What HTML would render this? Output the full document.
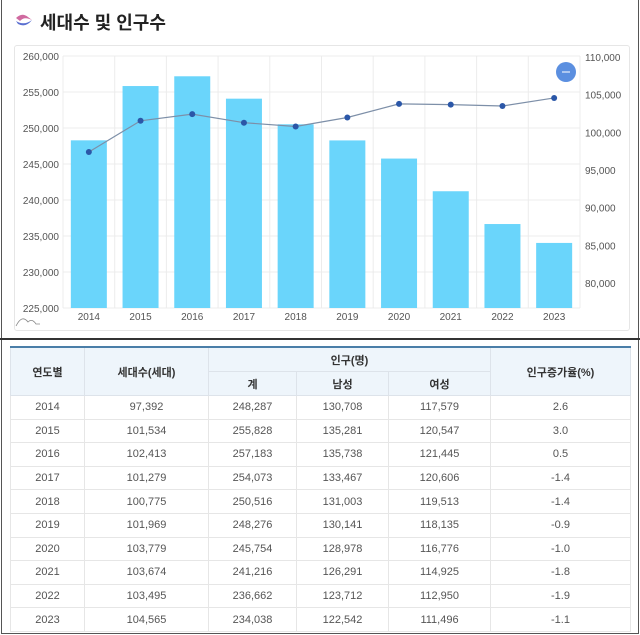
<!DOCTYPE html>
<html><head><meta charset="utf-8">
<style>
html,body{margin:0;padding:0;background:#fff;}
body{width:640px;height:635px;position:relative;overflow:hidden;font-family:"Liberation Sans","Noto Sans CJK KR",sans-serif;}
#frame{position:absolute;left:1px;top:0;width:636px;height:633px;border:1px solid #555;border-top:none;}
#divider{position:absolute;left:0;top:338px;width:640px;height:2px;background:#333;}
#title{position:absolute;left:40px;top:9px;font-size:18px;font-weight:bold;color:#222;}
#panel{position:absolute;left:14px;top:45px;width:614px;height:284px;border:1px solid #e6e6e6;border-radius:3px;}
table{position:absolute;left:10px;top:346px;width:621px;border-collapse:collapse;font-size:11px;color:#555;table-layout:fixed;}
th{background:#eef5fb;font-weight:bold;color:#333;border:1px solid #dde3ea;height:23px;padding:0;}
thead tr:first-child th{border-top:2px solid #4a7ea8;}
td{text-align:center;border:1px solid #e6e6e6;height:22.6px;padding:0;}
</style></head><body>
<div id="frame"></div>
<div style="position:absolute;left:14px;top:12px;width:20px;height:16px;">
<svg width="20" height="16"><path d="M2 6 Q8 0 14 5 L18 8 Q10 4 6 9Z" fill="#d06aa0"/><path d="M2 9 Q10 14 18 8 Q12 16 4 12Z" fill="#5a6fd0"/></svg></div>
<div id="title">세대수 및 인구수</div>
<div id="panel"></div>
<svg id="chart" width="640" height="335" style="position:absolute;left:0;top:0;"></svg>
<div id="divider"></div>
<table>
<colgroup><col style="width:74px"><col style="width:124px"><col style="width:88px"><col style="width:92px"><col style="width:102px"><col></colgroup>
<thead>
<tr><th rowspan="2">연도별</th><th rowspan="2">세대수(세대)</th><th colspan="3">인구(명)</th><th rowspan="2">인구증가율(%)</th></tr>
<tr><th>계</th><th>남성</th><th>여성</th></tr>
</thead>
<tbody id="tb"></tbody>
</table>
<script>
const years=['2014','2015','2016','2017','2018','2019','2020','2021','2022','2023'];
const population=[248287,255828,257183,254073,250516,248276,245754,241216,236662,234038];
const households=[97392,101534,102413,101279,100775,101969,103779,103674,103495,104565];
const male=[130708,135281,135738,133467,131003,130141,128978,126291,123712,122542];
const female=[117579,120547,121445,120606,119513,118135,116776,114925,112950,111496];
const growth=['2.6','3.0','0.5','-1.4','-1.4','-0.9','-1.0','-1.8','-1.9','-1.1'];
const leftTicks=[225000,230000,235000,240000,245000,250000,255000,260000];
const rightTicks=[80000,85000,90000,95000,100000,105000,110000];

const NS='http://www.w3.org/2000/svg';
const svg=document.getElementById('chart');
const X0=63,X1=580,TOP=56,BOT=308;
const yL=v=>BOT-(v-225000)/35000*(BOT-TOP);
const yR=v=>57+(110000-v)/30000*226;
const bw=(X1-X0)/years.length;
const xc=i=>X0+bw*(i+0.5);
function mk(tag,attrs,txt){const e=document.createElementNS(NS,tag);for(const k in attrs)e.setAttribute(k,attrs[k]);if(txt!==undefined)e.textContent=txt;svg.appendChild(e);return e;}
leftTicks.forEach(t=>{
  const g=mk('line',{x1:X0,x2:X1,y1:yL(t),y2:yL(t),stroke:'#ececec'});
  
  
  const l=mk('text',{x:59,y:yL(t)+4,'text-anchor':'end','font-size':'10',fill:'#555','font-family':'Liberation Sans'},t.toLocaleString('en-US'));
  
  
});
rightTicks.forEach(t=>{
  const l=mk('text',{x:585,y:yR(t)+4,'font-size':'10',fill:'#555','font-family':'Liberation Sans'},t.toLocaleString('en-US'));
  
  
});
for(let i=0;i<=years.length;i++){
  const v=mk('line',{x1:X0+bw*i,x2:X0+bw*i,y1:TOP,y2:BOT,stroke:'#ececec'});
  
  
}
years.forEach((y,i)=>{
  const b=mk('rect',{x:xc(i)-18,y:yL(population[i]),width:36,height:BOT-yL(population[i]),fill:'#6ad5fb'});
  
  
  const t=mk('text',{x:xc(i),y:320,'text-anchor':'middle','font-size':'10',fill:'#555','font-family':'Liberation Sans'},y);
  
  
});
const line=mk('polyline',{points:households.map((v,i)=>xc(i)+','+yR(v)).join(' '),fill:'none',stroke:'#7d8fa8','stroke-width':'1.2'});


households.forEach((v,i)=>{
  const c=mk('circle',{cx:xc(i),cy:yR(v),r:3,fill:'#2b57a8'});
  
  
});
const btn=mk('circle',{cx:566,cy:72,r:10,fill:'#5b8fe0'});


mk('line',{x1:562,x2:570,y1:72,y2:72,stroke:'#fff','stroke-width':'1'});
const nav=mk('path',{d:'M16 326 Q22 314 28 322 Q32 318 36 324 L40 324',fill:'none',stroke:'#888','stroke-width':'0.8'});



const tb=document.getElementById('tb');
years.forEach((y,i)=>{
  const tr=document.createElement('tr');
  
  
  [y,households[i].toLocaleString('en-US'),population[i].toLocaleString('en-US'),male[i].toLocaleString('en-US'),female[i].toLocaleString('en-US'),growth[i]].forEach(v=>{
    const td=document.createElement('td');td.textContent=v;
    
    
    tr.appendChild(td);
  });
  tb.appendChild(tr);
});
</script>
</body></html>
